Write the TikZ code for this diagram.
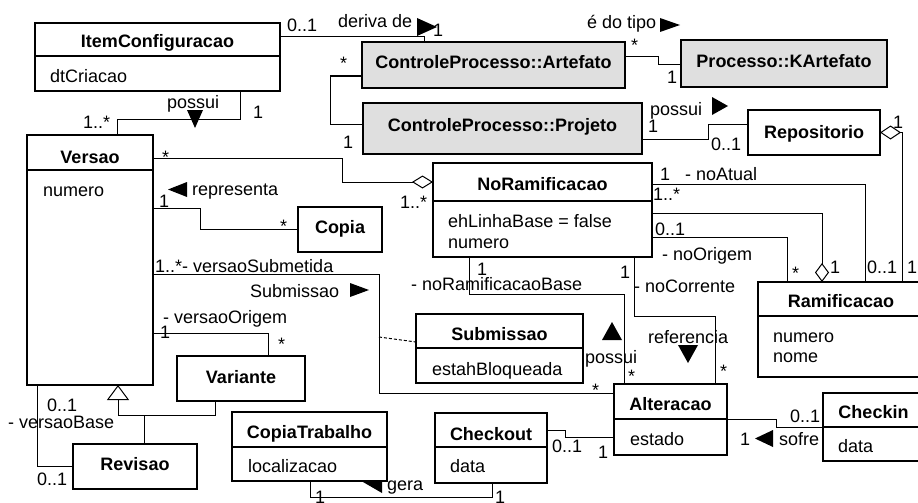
\documentclass[tikz,border=0pt]{standalone}
\usepackage{fontspec}
\setmainfont{Liberation Sans}
\usetikzlibrary{arrows.meta}
\definecolor{boxgray}{HTML}{DFDFDF}
\begin{document}
\begin{tikzpicture}[x=1pt,y=-1pt,
  font=\fontsize{18}{21}\selectfont,
  box/.style={draw, line width=2.6pt, fill=white, rectangle, inner sep=0pt, outer sep=0pt, anchor=north west},
  graybox/.style={box, fill=boxgray},
  div/.style={line width=1.2pt},
  assoc/.style={line width=1pt},
  ttl/.style={anchor=base, inner sep=0pt, font=\fontsize{18}{21}\selectfont\bfseries},
  lab/.style={anchor=base west, inner sep=0pt},
  dirmark/.style={fill=black}]
\useasboundingbox (0,0) rectangle (918,503);
\clip (0,0) rectangle (918,503);

% marker hidden partly behind CopiaTrabalho
\fill[dirmark] (382,471) -- (363,482) -- (382,493) -- cycle;

% ---------- classes ----------
\node[box, minimum width=245pt, minimum height=68pt] (itemconf) at (35,23) {};
\node[box, minimum width=126pt, minimum height=250pt] (versao) at (27,135) {};
\node[graybox, minimum width=263pt, minimum height=46pt] (artefato) at (362,42) {};
\node[graybox, minimum width=279pt, minimum height=51pt] (projeto) at (363,103) {};
\node[graybox, minimum width=206pt, minimum height=47pt] (kartefato) at (681,40) {};
\node[box, minimum width=132pt, minimum height=45pt] (repositorio) at (748,110) {};
\node[box, minimum width=219pt, minimum height=94pt] (noram) at (433,163) {};
\node[box, minimum width=84pt, minimum height=45pt] (copia) at (298,207) {};
\node[box, minimum width=166pt, minimum height=95pt] (ramif) at (758,282) {};
\node[box, minimum width=167pt, minimum height=69pt] (submissao) at (416,314) {};
\node[box, minimum width=128pt, minimum height=45pt] (variante) at (177,356) {};
\node[box, minimum width=124pt, minimum height=45pt] (revisao) at (73,444) {};
\node[box, minimum width=155pt, minimum height=69pt] (copiatrab) at (232,412) {};
\node[box, minimum width=112pt, minimum height=70pt] (checkout) at (435,413) {};
\node[box, minimum width=113pt, minimum height=71pt] (alteracao) at (614,384) {};
\node[box, minimum width=101pt, minimum height=68pt] (checkin) at (823,393) {};

% dividers
\draw[div] (itemconf.west |- 0,56) -- (itemconf.east |- 0,56);
\draw[div] (versao.west |- 0,170) -- (versao.east |- 0,170);
\draw[div] (noram.west |- 0,201) -- (noram.east |- 0,201);
\draw[div] (ramif.west |- 0,316) -- (ramif.east |- 0,316);
\draw[div] (submissao.west |- 0,348) -- (submissao.east |- 0,348);
\draw[div] (copiatrab.west |- 0,447) -- (copiatrab.east |- 0,447);
\draw[div] (checkout.west |- 0,447) -- (checkout.east |- 0,447);
\draw[div] (alteracao.west |- 0,419) -- (alteracao.east |- 0,419);
\draw[div] (checkin.west |- 0,427) -- (checkin.east |- 0,427);

% titles
\node[ttl] (t1) at (itemconf.north |- 0,48) {ItemConfiguracao};
\node[ttl] (t2) at (versao.north |- 0,163) {Versao};
\node[ttl] (t3) at (artefato.north |- 0,68) {ControleProcesso::Artefato};
\node[ttl] (t4) at (projeto.north |- 0,131) {ControleProcesso::Projeto};
\node[ttl] (t5) at (kartefato.north |- 0,67) {Processo::KArtefato};
\node[ttl] (t6) at (repositorio.north |- 0,138) {Repositorio};
\node[ttl] (t7) at (noram.north |- 0,190) {NoRamificacao};
\node[ttl] (t8) at (copia.north |- 0,233) {Copia};
\node[ttl] (t9) at (ramif.north |- 0,307) {Ramificacao};
\node[ttl] (t10) at (submissao.north |- 0,340) {Submissao};
\node[ttl] (t11) at (variante.north |- 0,383) {Variante};
\node[ttl] (t12) at (revisao.north |- 0,470) {Revisao};
\node[ttl] (t13) at (copiatrab.north |- 0,438) {CopiaTrabalho};
\node[ttl] (t14) at (checkout.north |- 0,440) {Checkout};
\node[ttl] (t15) at (alteracao.north |- 0,410) {Alteracao};
\node[ttl] (t16) at (checkin.north |- 0,418) {Checkin};

% attributes
\node[lab] (a1) at (50,82) {dtCriacao};
\node[lab] (a2) at (43,196) {numero};
\node[lab] (a3) at (448,227) {ehLinhaBase = false};
\node[lab] (a4) at (448,248) {numero};
\node[lab] (a5) at (773,342) {numero};
\node[lab] (a6) at (773,362) {nome};
\node[lab] (a7) at (432,375) {estahBloqueada};
\node[lab] (a8) at (248,472) {localizacao};
\node[lab] (a9) at (450,472) {data};
\node[lab] (a10) at (630,445) {estado};
\node[lab] (a11) at (838,452) {data};

% ---------- connectors ----------
\draw[assoc] (itemconf.east |- 0,37) -| (artefato.north -| 424,0);
\draw[assoc] (itemconf.south -| 240,0) |- (117,119) -- (versao.north -| 117,0);
\draw[assoc,-{Diamond[open,length=21pt,width=13pt]}] (versao.east |- 0,158) -| (342,182) -- (noram.west |- 0,182);
\draw[assoc] (artefato.west |- 0,76) -| (330,124) -- (projeto.west |- 0,124);
\draw[assoc] (artefato.east |- 0,57) -| (658,65) -- (kartefato.west |- 0,65);
\draw[assoc] (projeto.east |- 0,139) -| (708,124) -- (repositorio.west |- 0,124);
\draw[assoc,{Diamond[open,length=21pt,width=14pt]}-] (repositorio.east) -| (ramif.north -| 902,0);
\draw[assoc] (noram.east |- 0,184) -| (ramif.north -| 865,0);
\draw[assoc,-{Diamond[open,length=19pt,width=14pt]}] (noram.east |- 0,213) -| (ramif.north -| 822,0);
\draw[assoc] (noram.east |- 0,237) -| (ramif.north -| 787,0);
\draw[assoc] (versao.east |- 0,208) -| (200,229) -- (copia.west |- 0,229);
\draw[assoc] (versao.east |- 0,274) -| (379,393) -- (alteracao.west |- 0,393);
\draw[assoc, dash pattern=on 3pt off 2pt] (379,337) -- (submissao.west |- 0,342);
\draw[assoc] (versao.east |- 0,333) -| (variante.north -| 268,0);
\draw[assoc,-{Triangle[open,length=15pt,width=22pt]}] (variante.south -| 215,0) |- (118,415) -- (versao.south -| 118,0);
\draw[assoc] (144,415) -- (revisao.north -| 144,0);
\draw[assoc] (versao.south -| 37,0) |- (revisao.west |- 0,466);
\draw[assoc] (noram.south -| 469,0) |- (624,294) -- (alteracao.north -| 624,0);
\draw[assoc] (noram.south -| 634,0) |- (715,316) -- (alteracao.north -| 715,0);
\draw[assoc] (alteracao.east |- 0,419) -| (776,427) -- (checkin.west |- 0,427);
\draw[assoc] (checkout.east |- 0,430) -| (565,437) -- (alteracao.west |- 0,437);
\draw[assoc] (copiatrab.south -| 310,0) |- (492,497) -- (checkout.south -| 492,0);

% direction markers
\fill[dirmark] (417,18) -- (437,27) -- (417,36) -- cycle;
\fill[dirmark] (660,18) -- (680,25) -- (660,32) -- cycle;
\fill[dirmark] (187,110) -- (203,110) -- (195,128) -- cycle;
\fill[dirmark] (712,97) -- (728,106) -- (712,115) -- cycle;
\fill[dirmark] (187,182) -- (168,189.5) -- (187,197) -- cycle;
\fill[dirmark] (350,283) -- (369,290) -- (350,297) -- cycle;
\fill[dirmark] (602,340) -- (612,322) -- (622,340) -- cycle;
\fill[dirmark] (678,345) -- (698,345) -- (688,363) -- cycle;
\fill[dirmark] (773,430) -- (755,438.5) -- (773,447) -- cycle;

% ---------- labels ----------
\node[lab] (l1) at (287,32) {0..1};
\node[lab] (l2) at (338,28) {deriva de};
\node[lab] (l3) at (433,37) {1};
\node[lab] (l4) at (587,29) {é do tipo};
\node[lab] (l5) at (631,52) {*};
\node[lab] (l6) at (667,83) {1};
\node[lab] (l7) at (340,70) {*};
\node[lab] (l8) at (343,148) {1};
\node[lab] (l9) at (650,115) {possui};
\node[lab] (l10) at (648,132) {1};
\node[lab] (l11) at (711,150) {0..1};
\node[lab] (l12) at (893,128) {1};
\node[lab] (l13) at (167,108) {possui};
\node[lab] (l14) at (253,118) {1};
\node[lab] (l15) at (83,128) {1..*};
\node[lab] (l16) at (162,163) {*};
\node[lab] (l17) at (400,208) {1..*};
\node[lab] (l18) at (192,195) {representa};
\node[lab] (l19) at (159,207) {1};
\node[lab] (l20) at (280,232) {*};
\node[lab] (l21) at (155,272) {1..*- versaoSubmetida};
\node[lab] (l22) at (250,297) {Submissao};
\node[lab] (l23) at (163,323) {- versaoOrigem};
\node[lab] (l24) at (160,338) {1};
\node[lab] (l25) at (278,350) {*};
\node[lab] (l26) at (47,411) {0..1};
\node[lab] (l27) at (8,428) {- versaoBase};
\node[lab] (l28) at (37,485) {0..1};
\node[lab] (l29) at (387,490) {gera};
\node[lab] (l30) at (315,503) {1};
\node[lab] (l31) at (495,503) {1};
\node[lab] (l32) at (660,180) {1};
\node[lab] (l33) at (685,180) {- noAtual};
\node[lab] (l34) at (653,200) {1..*};
\node[lab] (l35) at (655,235) {0..1};
\node[lab] (l36) at (662,260) {- noOrigem};
\node[lab] (l37) at (792,279) {*};
\node[lab] (l38) at (830,273) {1};
\node[lab] (l39) at (867,273) {0..1};
\node[lab] (l40) at (907,273) {1..};
\node[lab] (l41) at (477,275) {1};
\node[lab] (l42) at (411,290) {- noRamificacaoBase};
\node[lab] (l43) at (620,278) {1};
\node[lab] (l44) at (634,292) {- noCorrente};
\node[lab] (l45) at (585,363) {possui};
\node[lab] (l46) at (628,382) {*};
\node[lab] (l47) at (592,396) {*};
\node[lab] (l48) at (648,343) {referencia};
\node[lab] (l49) at (720,377) {*};
\node[lab] (l50) at (790,422) {0..1};
\node[lab] (l51) at (740,445) {1};
\node[lab] (l52) at (779,445) {sofre};
\node[lab] (l53) at (552,452) {0..1};
\node[lab] (l54) at (598,458) {1};
\end{tikzpicture}
\end{document}
